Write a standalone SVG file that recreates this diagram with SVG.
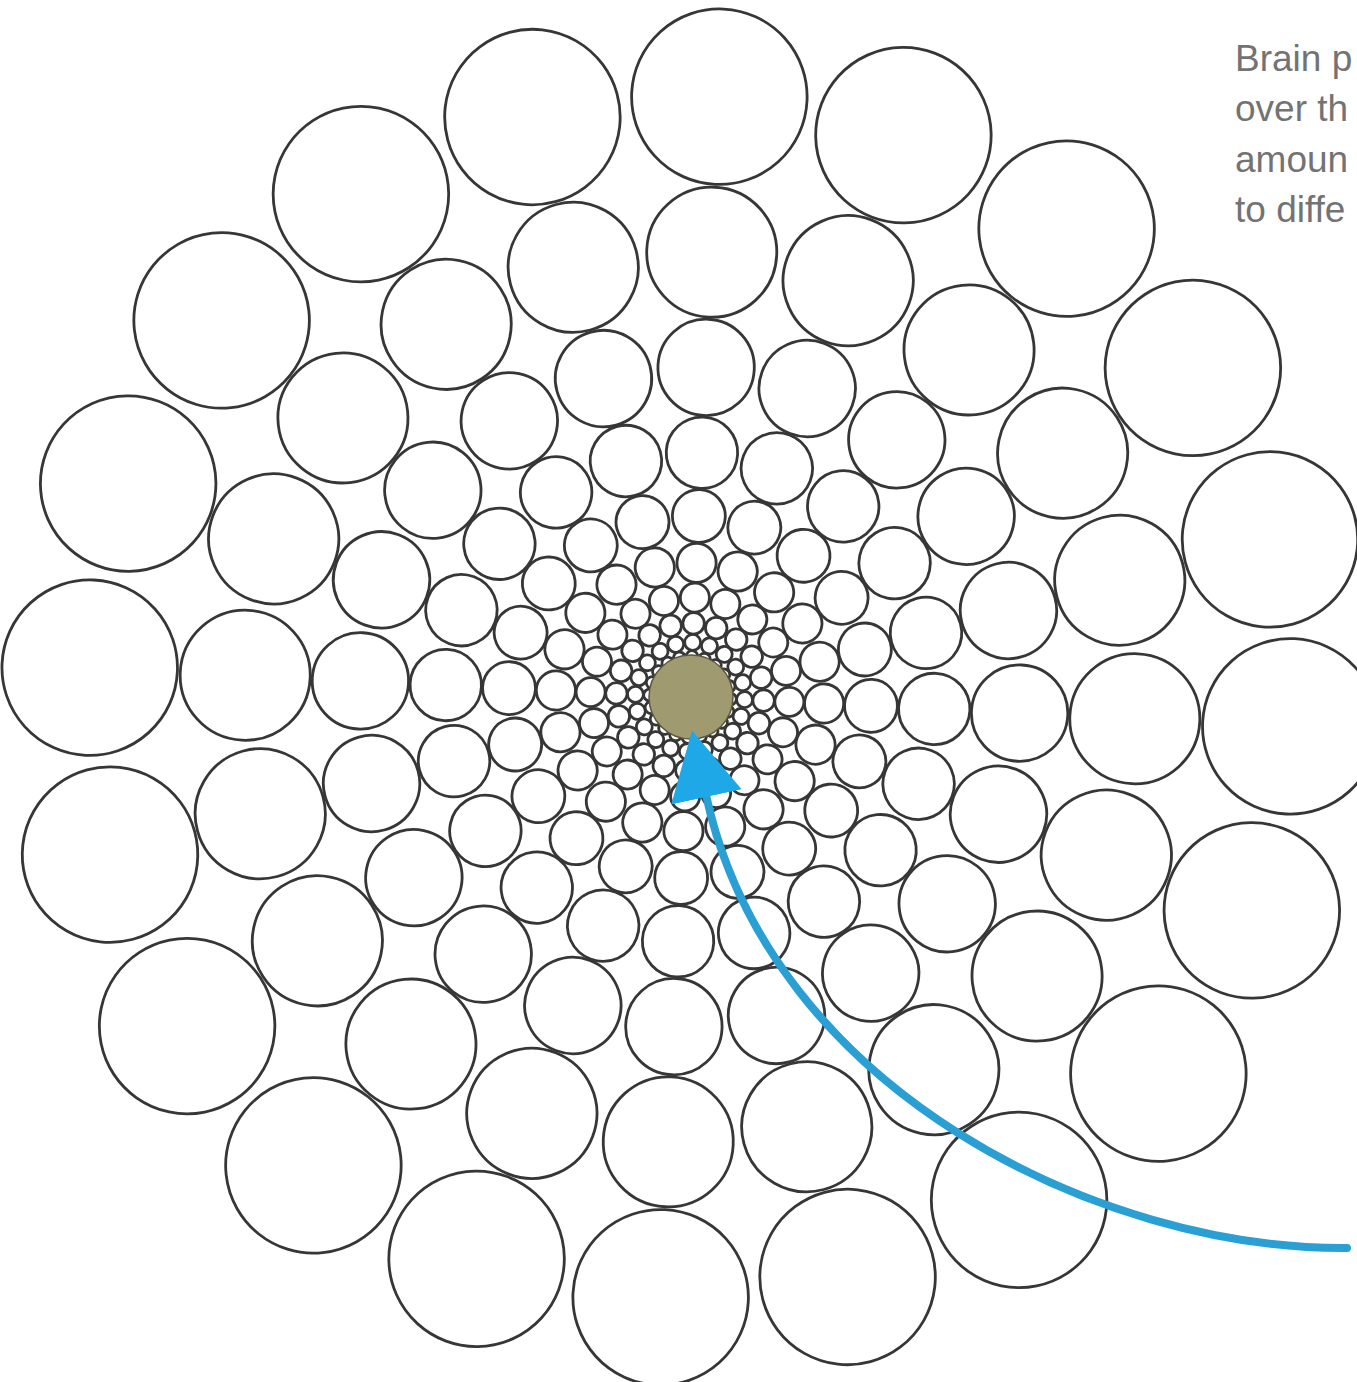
<svg xmlns="http://www.w3.org/2000/svg" xmlns:xlink="http://www.w3.org/1999/xlink" width="1357" height="1382" viewBox="0 0 1357 1382">
<style>
.cell{fill:none;stroke:#363636;stroke-width:2.8}
.lbl{font-family:"Liberation Sans",Arial,sans-serif;font-size:37px;fill:#737373}
.shaft{fill:none;stroke:#2a9fd3;stroke-width:8;stroke-linecap:round}
</style>
<defs>
<g id="spoke" fill="none" stroke="#363636" stroke-width="2.8">
<circle class="cell" cx="601" cy="0" r="87.75"/>
<circle class="cell" cx="445.34" cy="0" r="65.02"/>
<circle class="cell" cx="330.0" cy="0" r="48.18"/>
<circle class="cell" cx="244.53" cy="0" r="35.70"/>
<circle class="cell" cx="181.19" cy="0" r="26.45"/>
<circle class="cell" cx="134.27" cy="0" r="19.60"/>
<circle class="cell" cx="99.49" cy="0" r="14.53"/>
<circle class="cell" cx="73.72" cy="0" r="10.76"/>
<circle class="cell" cx="54.63" cy="0" r="7.98"/>
<circle class="cell" cx="40.48" cy="0" r="5.91"/>
<circle class="cell" cx="30.0" cy="0" r="4.38"/>
</g>
<marker id="head" markerUnits="userSpaceOnUse" markerWidth="80" markerHeight="80" viewBox="0 -40 80 80" refX="2" refY="0" orient="auto">
<path d="M0,-36 L68,0 L0,36 Z" fill="#1ea8e8"/>
</marker>
</defs>
<rect width="1357" height="1382" fill="#ffffff"/>
<g id="pattern" transform="translate(690,697)">
<use xlink:href="#spoke" href="#spoke" transform="rotate(2.8)"/>
<use xlink:href="#spoke" href="#spoke" transform="rotate(20.8)"/>
<use xlink:href="#spoke" href="#spoke" transform="rotate(38.8)"/>
<use xlink:href="#spoke" href="#spoke" transform="rotate(56.8)"/>
<use xlink:href="#spoke" href="#spoke" transform="rotate(74.8)"/>
<use xlink:href="#spoke" href="#spoke" transform="rotate(92.8)"/>
<use xlink:href="#spoke" href="#spoke" transform="rotate(110.8)"/>
<use xlink:href="#spoke" href="#spoke" transform="rotate(128.8)"/>
<use xlink:href="#spoke" href="#spoke" transform="rotate(146.8)"/>
<use xlink:href="#spoke" href="#spoke" transform="rotate(164.8)"/>
<use xlink:href="#spoke" href="#spoke" transform="rotate(182.8)"/>
<use xlink:href="#spoke" href="#spoke" transform="rotate(200.8)"/>
<use xlink:href="#spoke" href="#spoke" transform="rotate(218.8)"/>
<use xlink:href="#spoke" href="#spoke" transform="rotate(236.8)"/>
<use xlink:href="#spoke" href="#spoke" transform="rotate(254.8)"/>
<use xlink:href="#spoke" href="#spoke" transform="rotate(272.8)"/>
<use xlink:href="#spoke" href="#spoke" transform="rotate(290.8)"/>
<use xlink:href="#spoke" href="#spoke" transform="rotate(308.8)"/>
<use xlink:href="#spoke" href="#spoke" transform="rotate(326.8)"/>
<use xlink:href="#spoke" href="#spoke" transform="rotate(344.8)"/>
</g>
<g id="fovea">
<circle cx="691" cy="697" r="42" fill="#a09a70" stroke="#5a5640" stroke-width="1.5"/>
</g>
<g id="connectors">
<path class="shaft" d="M1347,1248 C1100,1250 770,1090 706,795" marker-end="url(#head)"/>
</g>
<g id="label">
<text class="lbl" x="1235" y="71">Brain p</text>
<text class="lbl" x="1235" y="121">over th</text>
<text class="lbl" x="1235" y="172">amoun</text>
<text class="lbl" x="1235" y="222">to diffe</text>
</g>
</svg>
